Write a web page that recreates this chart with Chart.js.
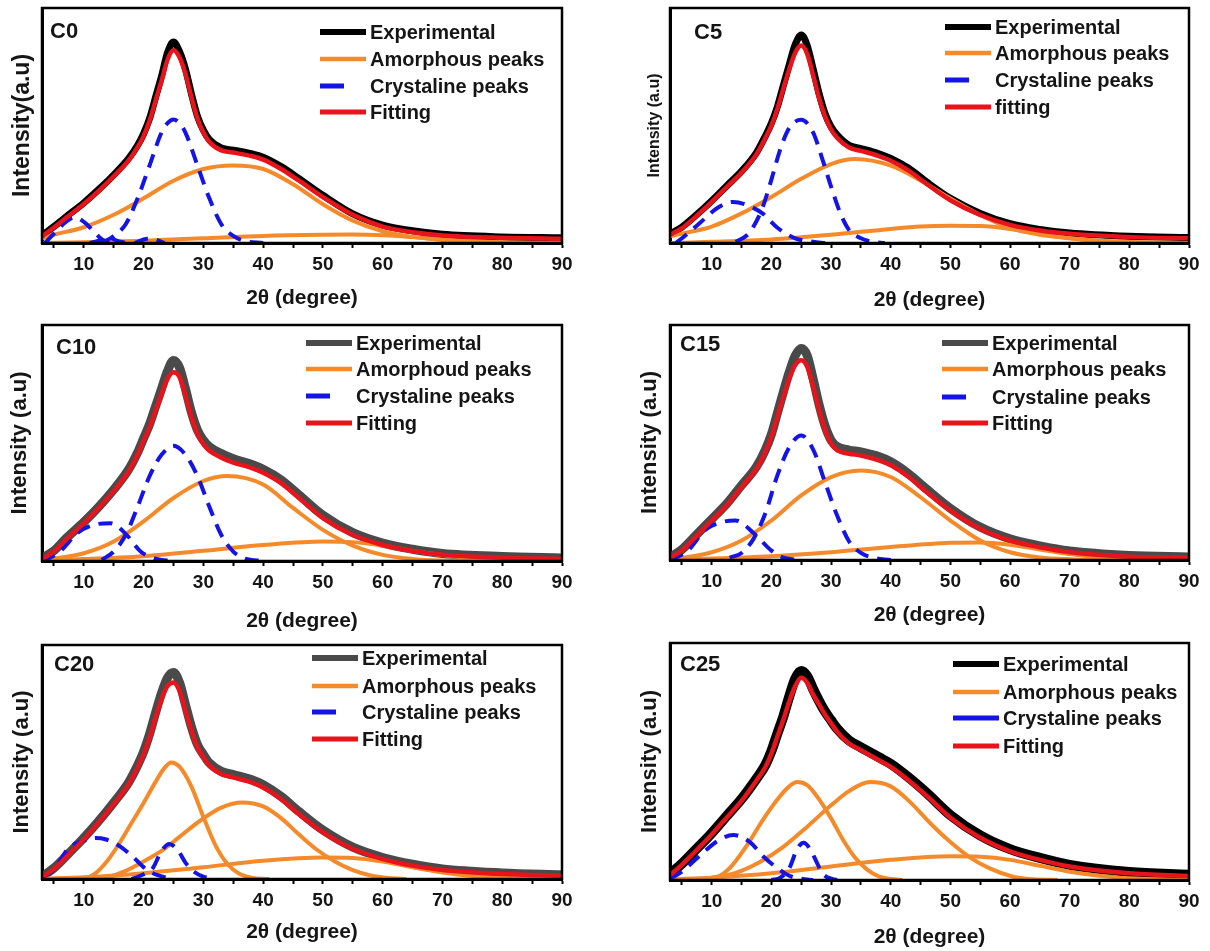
<!DOCTYPE html>
<html>
<head>
<meta charset="utf-8">
<title>XRD deconvolution C0-C25</title>
<script src="https://cdn.jsdelivr.net/npm/chart.js@4.4.1/dist/chart.umd.min.js"></script>
<style>
  body { margin: 0; background: #fff; }
  #wrap { position: relative; width: 1210px; height: 951px; background: #fff; }
  canvas { position: absolute; }
</style>
</head>
<body>
<div id="wrap">
  <canvas id="c0" width="605" height="317" style="left:0;top:0"></canvas>
  <canvas id="c5" width="605" height="317" style="left:605px;top:0"></canvas>
  <canvas id="c10" width="605" height="317" style="left:0;top:317px"></canvas>
  <canvas id="c15" width="605" height="317" style="left:605px;top:317px"></canvas>
  <canvas id="c20" width="605" height="317" style="left:0;top:634px"></canvas>
  <canvas id="c25" width="605" height="317" style="left:605px;top:634px"></canvas>
</div>
<script>
// 2theta grid used for the experimental and fitted curves
const angle = [3, 5, 7, 10, 12.5, 15, 17.5, 19, 20, 21, 22, 23, 24, 25, 26, 27, 28, 29, 30, 31, 33, 35, 38, 40, 43, 46, 50, 55, 60, 65, 70, 80, 90];
const xTicks = [10, 20, 30, 40, 50, 60, 70, 80, 90];

// ---- C0 ----
const c0Exp = [3.2, 7, 11.1, 17.1, 22.8, 29, 36, 41.6, 46.5, 53, 62, 71, 81, 85.5, 81.5, 74, 63.5, 54, 48, 44, 40.4, 39.5, 38, 36.5, 32.5, 27.4, 20.3, 12.4, 7.6, 5.2, 3.7, 2.6, 2.2];
const c0Fit = [2.8, 6.6, 10.6, 16.6, 22.2, 28.4, 35.2, 40.8, 45.5, 52, 60.5, 69, 78, 82, 79, 72, 62, 53, 47, 43, 39.4, 38.5, 37, 35.5, 31.5, 26.5, 19.5, 12, 7, 4.6, 3.2, 2.2, 1.8];
const c0AmA = [[3, 2], [5, 3.5], [10, 6.7], [15, 12], [20, 19], [25, 26.5], [30, 31.5], [35, 33], [40, 31.5], [45, 25], [50, 16.5], [55, 9.5], [60, 5], [65, 2.6], [70, 1.3], [75, 0.6], [80, 0.2], [90, 0]];
const c0AmB = [[3, 0], [10, 0.3], [20, 1], [30, 2], [40, 3], [50, 3.5], [55, 3.6], [60, 3.3], [65, 2.5], [70, 1.5], [75, 0.8], [80, 0.3], [90, 0]];
const c0CrA = [[13, 0], [15, 3], [17, 8], [19, 19], [21, 33], [23, 47], [24, 51], [25, 52.6], [26, 51], [27, 47], [29, 33], [31, 19], [33, 8], [35, 3], [37, 0.8], [40, 0]];
const c0CrB = [[3.5, 0], [5, 4], [7, 9], [8.5, 10.9], [10, 9], [12, 4], [13, 1.5], [14, 0.5], [16, 0]];
const c0CrC = [[11, 0], [12.5, 1], [14, 2.5], [15.5, 1], [17, 0]];
const c0CrD = [[18.5, 0], [20, 1.5], [21, 2], [22, 1.5], [23.5, 0]];

// ---- C5 ----
const c5Exp = [3.8, 6.8, 11, 18, 24.3, 30.6, 38.5, 45.6, 51, 58, 67, 76, 84.5, 88.5, 84, 74, 63.5, 55, 49.5, 46, 41.6, 40.2, 38, 36, 31.8, 26, 19, 12.6, 8.2, 5.8, 4.3, 2.9, 2.3];
const c5Fit = [3.5, 6.3, 10.5, 17.5, 23.8, 30, 37.8, 44.8, 50, 57, 65.7, 74, 81, 84, 80.4, 71.3, 61.5, 53.8, 48.3, 44.8, 40.6, 39.2, 37, 35, 30.8, 25.2, 18.2, 11.9, 7.7, 5.3, 3.9, 2.5, 2];
const c5AmA = [[3, 2.8], [5, 4], [10, 7], [15, 12.6], [20, 19.6], [25, 27.3], [30, 33.6], [34, 35.7], [40, 32.9], [45, 26.6], [50, 18.9], [55, 11.9], [60, 6.3], [65, 3.5], [70, 2], [75, 0.8], [80, 0.3], [90, 0]];
const c5AmB = [[3, 0], [10, 0.5], [20, 1.5], [30, 3.5], [40, 6], [45, 7], [50, 7.3], [55, 7.2], [60, 6], [65, 3.8], [70, 2], [75, 1], [80, 0.4], [90, 0]];
const c5CrA = [[14, 0.5], [16, 3.5], [17, 7], [18.5, 15], [20, 27], [21.5, 40], [23, 49], [25, 52.4], [27, 47], [28.5, 36], [30, 24], [31.5, 13], [33, 5.6], [35, 2], [37, 0.5], [39, 0]];
const c5CrB = [[4, 0], [5, 2], [8, 8.5], [11, 15], [13.6, 17.5], [16, 16], [18.5, 12.6], [21, 6.5], [24, 2], [27, 0.5], [29, 0]];

// ---- C10 ----
const c10Exp = [1.2, 4.4, 9.5, 16.5, 23, 30.3, 38.8, 46, 52, 58, 65.5, 73, 80.5, 85, 82, 73, 63, 55.5, 51.2, 48.4, 45.5, 43.3, 41, 38.9, 34.4, 28, 19.4, 12, 7.6, 5, 3.2, 1.9, 1.3];
const c10Fit = [0.9, 4, 9, 16, 22.5, 29.6, 38, 45, 51, 56.6, 63.7, 70.8, 77.2, 80, 78, 70, 61, 53.8, 49.5, 46.7, 43.8, 41.7, 39.5, 37.4, 33, 26.7, 18.2, 11, 6.8, 4.3, 2.6, 1.4, 0.9];
const c10AmA = [[3, 0], [5, 0.9], [10, 3.3], [15, 8.3], [20, 16.8], [25, 26.7], [30, 33.9], [34, 36], [40, 32.4], [45, 22.5], [50, 13.2], [55, 6.5], [60, 2.6], [65, 0.9], [70, 0.2], [75, 0]];
const c10AmB = [[3, 0.3], [10, 0.8], [20, 2], [30, 4.3], [40, 6.8], [50, 8.3], [55, 8], [60, 6.5], [65, 4.3], [70, 2.5], [75, 1.2], [80, 0.5], [90, 0]];
const c10CrA = [[13, 0.5], [15, 4], [17, 11], [19, 23], [21, 36], [23, 45], [25, 48.8], [27, 45], [29, 36], [31, 23], [33, 11], [35, 4], [37, 1], [40, 0]];
const c10CrB = [[3, 0], [4, 1], [6, 4], [9, 12], [12, 15.5], [14.5, 16], [17, 11.5], [19.5, 4], [22, 1], [25, 0]];

// ---- C15 ----
const c15Exp = [1.2, 4.5, 9.6, 17.4, 23.9, 31.8, 39.7, 47, 53.5, 62.5, 71.5, 80, 87, 90, 87, 77, 66, 57, 51, 48.3, 46.8, 46, 44, 41.8, 36.7, 30.2, 22, 14, 9, 6, 3.8, 1.9, 1.3];
const c15Fit = [0.9, 4, 9, 16.8, 23.2, 31, 38.8, 46, 52.3, 61, 69.4, 77.2, 83, 85, 82.2, 73.7, 63.7, 55.2, 49.5, 46.7, 45.2, 44.5, 42.4, 40.3, 35.3, 28.9, 21, 13.2, 8.3, 5.4, 3.3, 1.4, 0.9];
const c15AmA = [[3, 0.3], [5, 0.9], [10, 3.3], [15, 8.3], [20, 16.8], [25, 27.5], [30, 35.3], [35, 38.1], [40, 35.3], [45, 26.7], [50, 16.8], [55, 8.3], [60, 3.3], [65, 1.1], [70, 0.3], [75, 0]];
const c15AmB = [[3, 0.2], [10, 0.6], [20, 1.6], [30, 3.3], [40, 5.5], [50, 7.3], [55, 7.5], [60, 6.5], [65, 4.5], [70, 2.5], [75, 1.2], [80, 0.5], [90, 0]];
const c15CrA = [[13, 1], [15, 3], [17, 9], [19, 20], [21, 36], [23, 48], [25, 53], [27, 47], [29, 33], [31, 19], [33, 8], [35, 3], [37, 1], [40, 0]];
const c15CrB = [[3, 0], [4, 1], [6, 4], [9, 13], [12, 16.3], [14, 16.8], [17, 11.5], [20, 4], [22, 1], [25, 0]];

// ---- C20 ----
const c20Exp = [1, 4.7, 9.7, 17.6, 24.8, 32.7, 41.3, 48.6, 54.4, 62, 71, 79.5, 86, 88.2, 84, 74.5, 65, 57.5, 53.2, 49.6, 46, 44.6, 42.5, 40.3, 35.3, 28.8, 20.9, 13.6, 9.2, 6.3, 4.3, 2.6, 1.8];
const c20Fit = [0.7, 4.3, 9.2, 17, 24.2, 32, 40.5, 47.7, 53.3, 60.5, 69, 76.8, 82.5, 84, 80.4, 71.8, 63.3, 56.2, 52, 48.4, 44.8, 43.4, 41.3, 39.1, 34.1, 27.7, 19.9, 12.8, 8.5, 5.7, 3.8, 2.1, 1.4];
const c20AmA = [[9, 0], [10.5, 0.5], [12, 2.5], [14, 8], [16, 15.5], [18, 24], [20, 32.5], [22, 41.5], [23.5, 47.5], [24.6, 49.8], [26, 48], [28, 39.5], [30, 26.5], [32, 14.5], [34, 6.5], [36, 2.2], [38, 0.6], [41, 0]];
const c20AmB = [[12, 0], [14, 0.8], [17, 3.5], [20, 7.5], [23, 12], [26, 18], [29.5, 25], [33, 30.5], [36.5, 32.7], [40, 31], [43, 26], [46, 19], [49, 12.5], [52, 7.5], [55, 3.8], [58, 1.5], [61, 0.4], [64, 0]];
const c20AmC = [[3, 0.2], [10, 0.7], [20, 2.5], [30, 5], [40, 7.8], [50, 9.2], [55, 9], [60, 7.5], [65, 5], [70, 2.8], [75, 1.3], [80, 0.5], [90, 0]];
const c20CrA = [[3, 0.5], [5, 4], [7.4, 13], [10.2, 16.5], [12, 17.5], [13.6, 17], [15.7, 14.5], [18, 10], [20.5, 4], [22.5, 1.5], [25, 0]];
const c20CrB = [[18, 0], [20, 2], [21.5, 4.5], [23, 12], [24.3, 15], [25.8, 12], [27, 7], [28.5, 3], [30, 1], [32, 0]];

// ---- C25 ----
const c25Exp = [2.5, 6.9, 12, 19.8, 27, 34.2, 42.8, 48.6, 54.4, 61.8, 69, 77.5, 85, 88.2, 86, 80.5, 75.5, 71, 67.4, 63.9, 58.9, 56, 51.8, 49, 43.3, 36.8, 27.4, 18.8, 13, 9.3, 6.4, 3.4, 2.2];
const c25Fit = [2.1, 6.4, 11.4, 19.2, 26.3, 33.4, 42, 47.7, 53.3, 60.5, 67.6, 75.4, 81.8, 85.3, 83.2, 78.2, 74, 69.7, 66.1, 62.6, 57.6, 54.8, 50.5, 47.7, 42, 35.6, 26.3, 17.8, 12.1, 8.5, 5.7, 2.8, 1.7];
const c25AmA = [[8, 0], [10.2, 0.5], [13, 5], [16, 15], [18.6, 25.5], [21, 34], [23, 39.5], [24.3, 41.3], [26, 40], [28, 34], [30, 26], [32, 17], [34, 9.5], [36, 4.5], [38, 1.5], [40, 0.4], [42, 0]];
const c25AmB = [[8, 0.3], [10, 1], [14, 3], [18, 7.5], [22, 14], [26, 22.5], [30, 31.5], [33, 37.5], [36.5, 41.3], [40, 39.5], [43, 33.5], [47, 23], [50, 16], [53, 10], [56.5, 5], [60.5, 1.4], [64, 0.3], [68, 0]];
const c25AmC = [[3, 0.3], [10, 1], [20, 2.8], [30, 5.7], [40, 8.5], [50, 10], [55, 9.8], [60, 8.5], [65, 6], [70, 3.5], [75, 1.8], [80, 0.7], [90, 0.1]];
const c25CrA = [[3, 0.5], [5, 3.5], [7, 8], [9.2, 13], [11, 16.5], [13.6, 19], [16.4, 16], [18.6, 10], [21, 5], [23, 1.8], [25, 0.5], [27, 0]];
const c25CrB = [[20, 0], [21.5, 1], [23, 5], [24.3, 13], [25.4, 15.7], [26.5, 13], [27.5, 8], [28.5, 3], [29.5, 1], [31, 0]];

const RED = "#e8141c";
const ORANGE = "#f58a2a";
const BLUE = "#1414e6";
const FONT = "'Liberation Sans', Arial, sans-serif";

const panels = [
  { id: "c0", name: "C0", yTitle: "Intensity(a.u)", ySize: 23, yPad: 9, xPad: 6,
    exp: c0Exp, expColor: "#000", expWidth: 7, fit: c0Fit,
    amorph: [c0AmA, c0AmB], cryst: [c0CrA, c0CrB, c0CrC, c0CrD],
    area: { left: 42, top: 8, right: 562, bottom: 243 },
    label: [50, 32], legendX: 320, rows: [32, 59, 86, 112],
    names: ["Experimental", "Amorphous peaks", "Crystaline peaks", "Fitting"], solidBlue: false },
  { id: "c5", name: "C5", yTitle: "Intensity (a.u)", ySize: 16, yPad: 40, xPad: 4,
    exp: c5Exp, expColor: "#000", expWidth: 7, fit: c5Fit,
    amorph: [c5AmA, c5AmB], cryst: [c5CrA, c5CrB],
    area: { left: 65, top: 8, right: 584, bottom: 243 },
    label: [89, 33], legendX: 340, rows: [27, 53, 80, 107],
    names: ["Experimental", "Amorphous peaks", "Crystaline peaks", "fitting"], solidBlue: false },
  { id: "c10", name: "C10", yTitle: "Intensity (a.u)", ySize: 22, yPad: 7, xPad: 0,
    exp: c10Exp, expColor: "#4a4a4a", expWidth: 9, fit: c10Fit,
    amorph: [c10AmA, c10AmB], cryst: [c10CrA, c10CrB],
    area: { left: 42, top: 8, right: 562, bottom: 244 },
    label: [56, 31], legendX: 306, rows: [26, 52, 79, 106],
    names: ["Experimental", "Amorphoud peaks", "Crystaline peaks", "Fitting"], solidBlue: false },
  { id: "c15", name: "C15", yTitle: "Intensity (a.u)", ySize: 22, yPad: 32, xPad: 6,
    exp: c15Exp, expColor: "#4a4a4a", expWidth: 9, fit: c15Fit,
    amorph: [c15AmA, c15AmB], cryst: [c15CrA, c15CrB],
    area: { left: 65, top: 8, right: 584, bottom: 243 },
    label: [75, 28], legendX: 337, rows: [26, 52, 80, 106],
    names: ["Experimental", "Amorphous peaks", "Crystaline peaks", "Fitting"], solidBlue: false },
  { id: "c20", name: "C20", yTitle: "Intensity (a.u)", ySize: 22, yPad: 9, xPad: 6,
    exp: c20Exp, expColor: "#4a4a4a", expWidth: 9, fit: c20Fit,
    amorph: [c20AmA, c20AmB, c20AmC], cryst: [c20CrA, c20CrB],
    area: { left: 42, top: 11, right: 562, bottom: 245 },
    label: [54, 31], legendX: 312, rows: [24, 52, 78, 105],
    names: ["Experimental", "Amorphous peaks", "Crystaline peaks", "Fitting"], solidBlue: false },
  { id: "c25", name: "C25", yTitle: "Intensity (a.u)", ySize: 22, yPad: 32, xPad: 1,
    exp: c25Exp, expColor: "#000", expWidth: 10, fit: c25Fit,
    amorph: [c25AmA, c25AmB, c25AmC], cryst: [c25CrA, c25CrB],
    area: { left: 65, top: 9, right: 584, bottom: 246 },
    label: [75, 31], legendX: 348, rows: [30, 58, 84, 112],
    names: ["Experimental", "Amorphous peaks", "Crystaline peaks", "Fitting"], solidBlue: true },
];

const fromGrid = (ys) => angle.map((x, i) => ({ x, y: ys[i] }));
const fromPairs = (arr) => arr.map(([x, y]) => ({ x, y }));

function curve(data, color, width, order, extra) {
  return Object.assign({
    data, borderColor: color, borderWidth: width, order,
    pointRadius: 0, fill: false, cubicInterpolationMode: "monotone",
  }, extra || {});
}

// frame, panel name and the legend box inside the plot
const decor = {
  id: "decor",
  afterDraw(chart, args, opts) {
    const p = opts.panel;
    const { ctx, chartArea: a } = chart;
    ctx.save();
    ctx.strokeStyle = "#000";
    ctx.lineWidth = 2.5;
    ctx.strokeRect(a.left, a.top, a.right - a.left, a.bottom - a.top);

    ctx.fillStyle = "#151515";
    ctx.textBaseline = "middle";
    ctx.font = "bold 22px " + FONT;
    ctx.fillText(p.name, p.label[0], p.label[1]);

    const keys = [
      { color: p.expColor, width: 6, dash: false },
      { color: ORANGE, width: 4.5, dash: false },
      { color: BLUE, width: 5, dash: !p.solidBlue },
      { color: RED, width: 5, dash: false },
    ];
    ctx.font = "bold 20px " + FONT;
    keys.forEach((k, i) => {
      const y = p.rows[i];
      ctx.strokeStyle = k.color;
      ctx.lineWidth = k.width;
      ctx.beginPath();
      ctx.moveTo(p.legendX, y);
      ctx.lineTo(p.legendX + (k.dash ? 24 : 46), y);
      ctx.stroke();
      ctx.fillText(p.names[i], p.legendX + 50, y + 1);
    });
    ctx.restore();
  },
};

panels.forEach((p) => {
  const a = p.area;
  const datasets = [curve(fromGrid(p.exp), p.expColor, p.expWidth, 5)];
  p.amorph.forEach((s) => datasets.push(curve(fromPairs(s), ORANGE, 4, 4)));
  p.cryst.forEach((s) => datasets.push(curve(fromPairs(s), BLUE, 4, 3, { borderDash: [14, 9] })));
  datasets.push(curve(fromGrid(p.fit), RED, 4.5, 1));

  new Chart(document.getElementById(p.id), {
    type: "line",
    data: { datasets },
    options: {
      responsive: false,
      animation: false,
      events: [],
      layout: { padding: { left: 0, top: a.top, right: 605 - a.right, bottom: 0 } },
      plugins: { legend: { display: false }, tooltip: { enabled: false }, decor: { panel: p } },
      scales: {
        x: {
          type: "linear", min: 3, max: 90,
          afterFit: (s) => { s.height = 317 - a.bottom; },
          afterBuildTicks: (s) => { s.ticks = [5, 10, 15, 20, 25, 30, 35, 40, 45, 50, 55, 60, 65, 70, 75, 80, 85, 90].map((v) => ({ value: v })); },
          ticks: {
            autoSkip: false, maxRotation: 0, padding: 5, color: "#151515",
            font: { family: FONT, size: 19, weight: "bold" },
            callback: (v) => (xTicks.includes(v) ? String(v) : ""),
          },
          grid: { drawOnChartArea: false, drawTicks: true, tickLength: 5, tickColor: "#000", tickWidth: 2 },
          border: { display: true, color: "#000", width: 3 },
          title: {
            display: true, text: "2θ (degree)", color: "#151515",
            font: { family: FONT, size: 21, weight: "bold" },
            padding: { top: 0, bottom: p.xPad },
          },
        },
        y: {
          min: 0, max: 100,
          afterFit: (s) => { s.width = a.left; },
          ticks: { display: false },
          grid: { display: false },
          border: { display: true, color: "#000", width: 3 },
          title: {
            display: true, text: p.yTitle, color: "#151515",
            font: { family: FONT, size: p.ySize, weight: "bold" },
            padding: { top: p.yPad, bottom: 0 },
          },
        },
      },
    },
    plugins: [decor],
  });
});
</script>
</body>
</html>
